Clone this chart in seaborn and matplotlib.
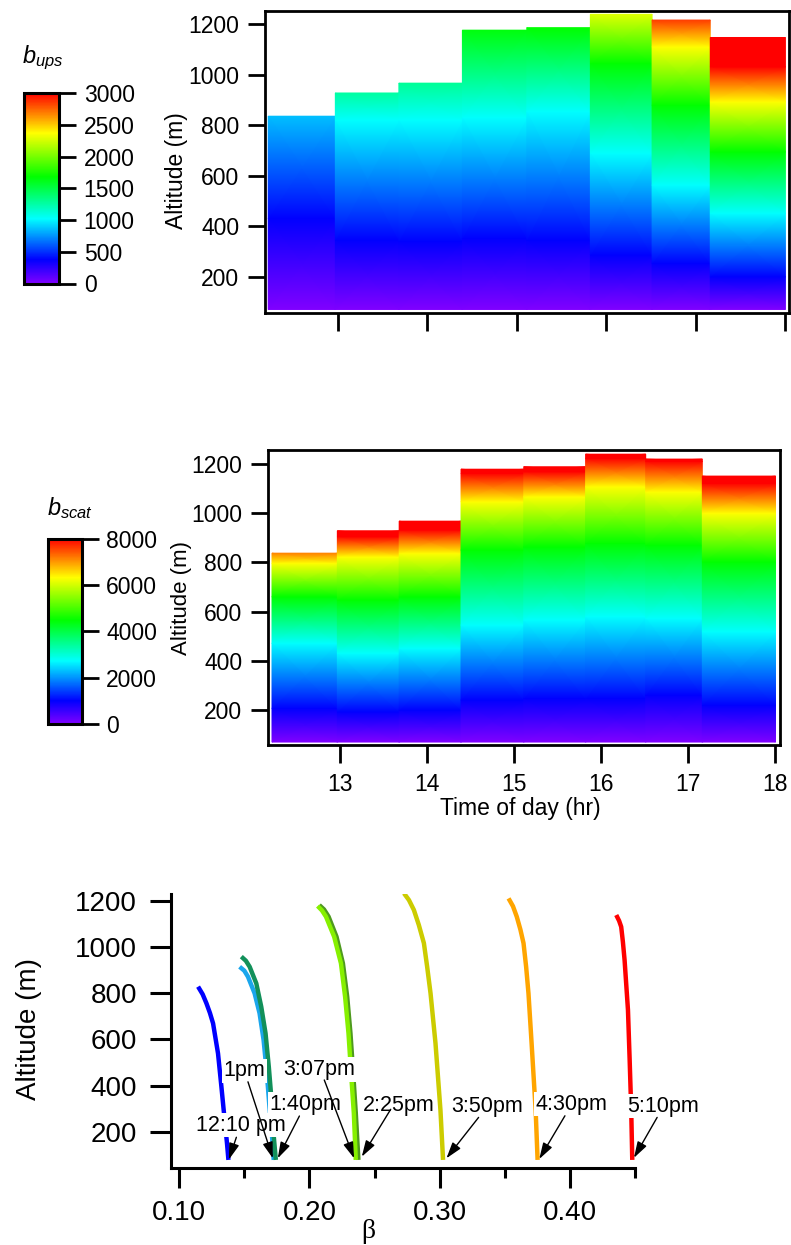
import numpy as np
import pandas as pd
import matplotlib
matplotlib.use("Agg")
import matplotlib.pyplot as plt
from matplotlib.colors import LinearSegmentedColormap, Normalize
from matplotlib.cm import ScalarMappable
from matplotlib.ticker import FormatStrFormatter
import seaborn as sns

# ------------------------------------------------------------------
# Data
# ------------------------------------------------------------------
# left/right edges (hour of day) of each sounding column
column_edges_hr = [12.22, 12.97, 13.68, 14.39, 15.11, 15.82, 16.51, 17.16, 18.0]

# b_ups profiles: altitude (m) of each reading and its value
ups_alt = [
    [70, 431, 836],
    [70, 345, 820, 928],
    [70, 340, 820, 967],
    [70, 352, 830, 1177],
    [70, 345, 854, 1187],
    [70, 286, 689, 1045, 1240],
    [70, 253, 563, 880, 1111, 1217],
    [70, 200, 451, 695, 893, 1032, 1148],
]
ups_val = [
    [0, 375, 860],
    [0, 375, 1020, 1260],
    [0, 375, 1020, 1290],
    [0, 375, 1020, 1650],
    [0, 375, 1020, 1680],
    [0, 375, 1020, 1680, 2280],
    [0, 375, 1020, 1680, 2370, 2850],
    [0, 375, 1020, 1680, 2370, 3000, 3300],
]

# b_scat profiles: altitude (m) of each reading and its value
scat_alt = [
    [70, 207, 471, 660, 796, 837],
    [70, 193, 430, 647, 822, 904, 928],
    [70, 200, 450, 660, 836, 931, 967],
    [70, 241, 545, 850, 1046, 1161, 1178],
    [70, 247, 565, 863, 1066, 1168, 1188],
    [70, 247, 579, 877, 1107, 1222, 1239],
    [70, 261, 572, 870, 1086, 1210, 1219],
    [70, 220, 518, 802, 999, 1120, 1150],
]
scat_val = [
    [0, 1000, 2720, 4480, 6320, 7150],
    [0, 1000, 2720, 4480, 6320, 8000, 8300],
    [0, 1000, 2720, 4480, 6320, 8000, 8300],
    [0, 1000, 2720, 4480, 6320, 8000, 8300],
    [0, 1000, 2720, 4480, 6320, 8000, 8300],
    [0, 1000, 2720, 4480, 6320, 8000, 8300],
    [0, 1000, 2720, 4480, 6320, 8000, 8300],
    [0, 1000, 2720, 4480, 6320, 8000, 8300],
]

ups_ticks = [0, 500, 1000, 1500, 2000, 2500, 3000]
scat_ticks = [0, 2000, 4000, 6000, 8000]
altitude_ticks = [200, 400, 600, 800, 1000, 1200]
hour_ticks = [13, 14, 15, 16, 17, 18]

# beta profiles (beta, altitude in m)
profile_labels = ["12:10 pm", "1pm", "1:40pm", "2:25pm", "3:07pm",
                  "3:50pm", "4:30pm", "5:10pm"]
profile_colors = ["#0000FF", "#1AA6EC", "#12905A", "#4E9A1E", "#86F000",
                  "#CCCC00", "#FFA500", "#FF0000"]

beta_1210 = [0.1145, 0.1180, 0.1209, 0.1236, 0.1260, 0.1298, 0.1324, 0.1349, 0.1367, 0.1378]
alt_1210 = [828, 795, 756, 714, 669, 539, 395, 251, 150, 78]

beta_1300 = [0.1464, 0.1500, 0.1528, 0.1579, 0.1617, 0.1648, 0.1673, 0.1693, 0.1711, 0.1726]
alt_1300 = [914, 897, 871, 799, 713, 597, 453, 308, 193, 78]

beta_1340 = [0.1477, 0.1512, 0.1541, 0.1592, 0.1630, 0.1663, 0.1688, 0.1709, 0.1724, 0.1742]
alt_1340 = [958, 940, 914, 842, 741, 626, 481, 337, 193, 78]

beta_1425 = [0.2076, 0.2112, 0.2147, 0.2208, 0.2257, 0.2290, 0.2315, 0.2336, 0.2356, 0.2376]
alt_1425 = [1181, 1162, 1131, 1044, 929, 784, 626, 453, 280, 78]

beta_1507 = [0.2063, 0.2096, 0.2127, 0.2190, 0.2242, 0.2274, 0.2300, 0.2320, 0.2341, 0.2356]
alt_1507 = [1177, 1158, 1131, 1044, 929, 784, 626, 453, 280, 78]

beta_1550 = [0.2726, 0.2764, 0.2802, 0.2840, 0.2879, 0.2904, 0.2930, 0.2968, 0.3006, 0.3026]
alt_1550 = [1232, 1203, 1160, 1095, 1016, 914, 799, 583, 294, 78]

beta_1630 = [0.3529, 0.3563, 0.3592, 0.3620, 0.3644, 0.3664, 0.3682, 0.3706, 0.3737, 0.3752]
alt_1630 = [1210, 1176, 1131, 1075, 1016, 914, 799, 583, 294, 78]

beta_1710 = [0.4356, 0.4378, 0.4394, 0.4407, 0.4420, 0.4446, 0.4459, 0.4471, 0.4479]
alt_1710 = [1138, 1113, 1087, 1022, 943, 727, 510, 294, 78]

beta_profiles = [beta_1210, beta_1300, beta_1340, beta_1425, beta_1507,
                 beta_1550, beta_1630, beta_1710]
alt_profiles = [alt_1210, alt_1300, alt_1340, alt_1425, alt_1507,
                alt_1550, alt_1630, alt_1710]

# label placement: text centre, arrow tail, arrow head (beta, altitude)
label_text_xy = [(0.1470, 229), (0.1500, 464), (0.1969, 320), (0.2687, 315),
                 (0.2076, 470), (0.3368, 311), (0.4010, 319), (0.4713, 311)]
label_tail_xy = [(0.1439, 176), (0.1528, 416), (0.1923, 268), (0.2624, 297),
                 (0.2114, 424), (0.3299, 262), (0.3962, 269), (0.4670, 262)]
label_head_xy = [(0.1382, 80), (0.1719, 85), (0.1757, 85), (0.2402, 92),
                 (0.2343, 85), (0.3052, 85), (0.3765, 82), (0.4492, 87)]

# ------------------------------------------------------------------
# Style
# ------------------------------------------------------------------
sns.set_theme(style="ticks")
plt.rcParams["font.family"] = ["Liberation Sans", "DejaVu Sans"]
plt.rcParams["mathtext.fontset"] = "custom"
plt.rcParams["mathtext.it"] = "Liberation Sans:italic"
plt.rcParams["mathtext.rm"] = "Liberation Sans"
plt.rcParams["axes.edgecolor"] = "black"
plt.rcParams["xtick.color"] = "black"
plt.rcParams["ytick.color"] = "black"
plt.rcParams["text.color"] = "black"

rainbow = LinearSegmentedColormap.from_list(
    "rainbow_violet",
    [(0.0, "#8000FF"), (0.125, "#0000FF"), (0.34, "#00FFFF"),
     (0.56, "#00FF00"), (0.79, "#FFFF00"), (1.0, "#FF0000")],
    N=512,
)

W, H = 791, 1245
fig = plt.figure(figsize=(W / 100, H / 100), dpi=100)


def px_axes(left, top, right, bottom):
    return fig.add_axes([left / W, 1 - bottom / H, (right - left) / W, (bottom - top) / H])


ax1 = px_axes(265, 11, 789, 313)
ax2 = px_axes(268, 450, 779.5, 745)
ax3 = px_axes(171, 894, 635, 1168)
cax1 = px_axes(24, 93, 59, 283.5)
cax2 = px_axes(47.5, 538.5, 81.5, 724)


def draw_field(ax, alts, vals, vmax):
    for i in range(len(alts)):
        x0, x1 = column_edges_hr[i], column_edges_hr[i + 1]
        a = np.asarray(alts[i], float)
        v = np.asarray(vals[i], float)
        X = np.column_stack([np.full_like(a, x0), np.full_like(a, x1)])
        Y = np.column_stack([a, a])
        C = np.column_stack([v, v])
        ax.pcolormesh(X, Y, C, shading="gouraud", cmap=rainbow, vmin=0, vmax=vmax)


def style_field_axes(ax, ylim, xlim, show_xlabels):
    ax.set_xlim(*xlim)
    ax.set_ylim(*ylim)
    ax.set_yticks(altitude_ticks)
    ax.set_xticks(hour_ticks)
    for s in ax.spines.values():
        s.set_visible(True)
        s.set_linewidth(2.0)
        s.set_color("black")
    ax.tick_params(axis="y", direction="out", length=12, width=2, pad=6.5, labelsize=16.5)
    ax.tick_params(axis="x", direction="out", length=13, width=2, pad=7, labelsize=16.5,
                   labelbottom=show_xlabels)
    ax.grid(False)
    ax.set_facecolor("white")


draw_field(ax1, ups_alt, ups_val, 3000)
style_field_axes(ax1, (56, 1253), (12.184, 18.04), False)

draw_field(ax2, scat_alt, scat_val, 8000)
style_field_axes(ax2, (58, 1256), (12.174, 18.046), True)

# colour bars
for cax, vmax, ticks in [(cax1, 3000, ups_ticks), (cax2, 8000, scat_ticks)]:
    sm = ScalarMappable(norm=Normalize(0, vmax), cmap=rainbow)
    cb = fig.colorbar(sm, cax=cax, ticks=ticks)
    cb.outline.set_linewidth(2.2)
    cb.outline.set_edgecolor("black")
    cax.tick_params(direction="out", length=12, width=2, pad=5.8, labelsize=16.5)
    cax.minorticks_off()

fig.text(21.7 / W, 1 - 63 / H, r"$b_{ups}$", fontsize=17, ha="left", va="baseline")
fig.text(46.7 / W, 1 - 515 / H, r"$b_{scat}$", fontsize=17, ha="left", va="baseline")

fig.text(177 / W, 1 - 171 / H, "Altitude (m)", rotation=90, ha="center", va="center",
         fontsize=16.5)
fig.text(182 / W, 1 - 598 / H, "Altitude (m)", rotation=90, ha="center", va="center",
         fontsize=16)
fig.text(520 / W, 1 - 808 / H, "Time of day (hr)", ha="center", va="center", fontsize=16.5)

# ------------------------------------------------------------------
# Beta profiles
# ------------------------------------------------------------------
frames = []
for lab, b, a in zip(profile_labels, beta_profiles, alt_profiles):
    frames.append(pd.DataFrame({"beta": b, "altitude": a, "profile": lab}))
profiles = pd.concat(frames, ignore_index=True)

sns.lineplot(data=profiles, x="beta", y="altitude", hue="profile",
             hue_order=profile_labels,
             palette=dict(zip(profile_labels, profile_colors)),
             sort=False, estimator=None, orient="y", linewidth=3.2,
             legend=False, ax=ax3)
for ln in ax3.lines:
    ln.set_solid_capstyle("butt")
    ln.set_solid_joinstyle("round")

for lab, txy, tail, head in zip(profile_labels, label_text_xy, label_tail_xy, label_head_xy):
    ax3.annotate("", xy=head, xytext=tail,
                 arrowprops=dict(arrowstyle="-|>,head_length=0.7,head_width=0.22",
                                 color="black", lw=1.0, shrinkA=0, shrinkB=0,
                                 mutation_scale=14),
                 zorder=6, annotation_clip=False)
    ax3.text(txy[0], txy[1], lab, ha="center", va="center", fontsize=15.5, zorder=5,
             clip_on=False,
             bbox=dict(boxstyle="square,pad=0.08", facecolor="white", edgecolor="none"))

ax3.set_xlim(0.0937, 0.45)
ax3.set_ylim(43, 1229)
ax3.set_xticks([0.10, 0.20, 0.30, 0.40])
ax3.set_xticks([0.15, 0.25, 0.35, 0.45], minor=True)
ax3.xaxis.set_major_formatter(FormatStrFormatter("%.2f"))
ax3.set_yticks(altitude_ticks)
sns.despine(ax=ax3)
for side in ("left", "bottom"):
    ax3.spines[side].set_linewidth(2.2)
    ax3.spines[side].set_color("black")
ax3.tick_params(axis="x", which="major", direction="out", length=14.5, width=2.2,
                pad=8.6, labelsize=20)
ax3.tick_params(axis="x", which="minor", direction="out", length=7.5, width=2.2)
ax3.tick_params(axis="y", direction="out", length=15, width=2.2, pad=9.5, labelsize=20)
ax3.set_xlabel("")
ax3.set_ylabel("")
ax3.grid(False)

fig.text(29 / W, 1 - 1028.5 / H, "Altitude (m)", rotation=90, ha="center", va="center",
         fontsize=20)
fig.text(368 / W, 1 - 1232 / H, "β", ha="center", va="center", fontsize=20,
         family=["Liberation Serif", "DejaVu Serif"])

fig.savefig("out.png", dpi=100)
